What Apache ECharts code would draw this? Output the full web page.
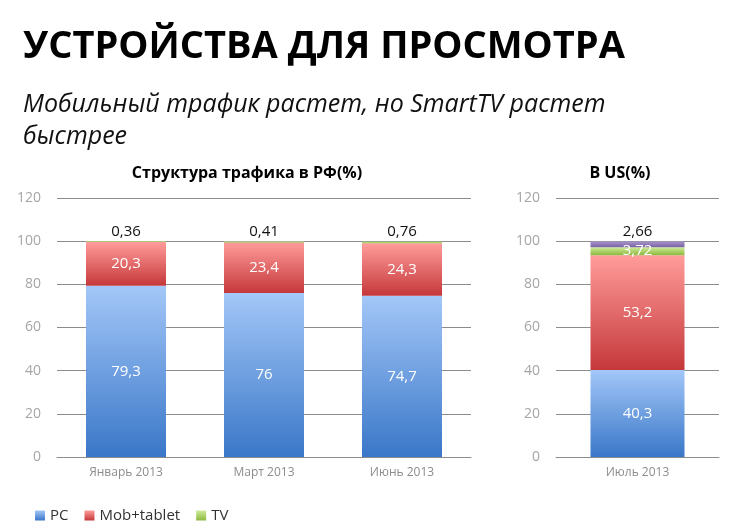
<!DOCTYPE html>
<html>
<head>
<meta charset="utf-8">
<script src="https://cdn.jsdelivr.net/npm/echarts@6/dist/echarts.min.js"></script>
<style>
html, body { margin: 0; padding: 0; background: #fff; }
#main { width: 730px; height: 531px; }
</style>
</head>
<body>
<div id="main"></div>
<script>
// данные
var categoriesRu = ['Январь 2013', 'Март 2013', 'Июнь 2013'];
var pcRu = [79.3, 76, 74.7];
var mobRu = [20.3, 23.4, 24.3];
var tvRu = [0.36, 0.41, 0.76];

var categoriesUs = ['Июль 2013'];
var pcUs = [40.3];
var mobUs = [53.2];
var tvUs = [3.72];
var otherUs = [2.66];

function grad (top, bottom) {
    return new echarts.graphic.LinearGradient(0, 0, 0, 1, [
        {offset: 0, color: top},
        {offset: 1, color: bottom}
    ]);
}
var pcColor = grad('#a3c7f8', '#3a77c8');
var mobColor = grad('#ff9c9a', '#c5383a');
var tvColor = grad('#d0ec9a', '#8cb83e');
var otherColor = grad('#a896cc', '#7a62a6');

function comma (p) {
    return String(p.value).replace('.', ',');
}

var fontF = '"Open Sans", "Noto Sans", sans-serif';

var myChart = echarts.init(document.getElementById('main'));

function yAxisOf (gi) {
    return {
        type: 'value',
        gridIndex: gi,
        min: 0,
        max: 120,
        interval: 20,
        axisLine: {show: false},
        axisTick: {show: false},
        axisLabel: {color: '#a6a6a6', fontSize: 14, fontFamily: fontF, margin: 16},
        splitLine: {lineStyle: {color: '#8c8c8c', width: 1}}
    };
}
function xAxisOf (gi, data) {
    return {
        type: 'category',
        gridIndex: gi,
        data: data,
        axisLine: {lineStyle: {color: '#8c8c8c'}},
        axisTick: {show: false},
        axisLabel: {color: '#8c8c8c', fontSize: 12, fontFamily: fontF, margin: 10}
    };
}
var inLabel = {show: true, position: 'inside', color: '#fff', fontSize: 15, fontFamily: fontF, formatter: comma};
var topLabel = {show: true, position: 'top', color: '#111', fontSize: 15, fontFamily: fontF, distance: 2, formatter: comma};

option = {
    backgroundColor: '#fff',
    title: [
        {
            text: 'УСТРОЙСТВА ДЛЯ ПРОСМОТРА',
            left: 18, top: 23,
            textStyle: {fontSize: 38, fontWeight: 'bold', color: '#000', fontFamily: fontF}
        },
        {
            text: 'Мобильный трафик растет, но SmartTV растет\nбыстрее',
            left: 18, top: 84,
            textStyle: {fontSize: 25, fontStyle: 'italic', fontWeight: 'normal', color: '#111', fontFamily: fontF, lineHeight: 32}
        },
        {
            text: 'Структура трафика в РФ(%)',
            left: 242, top: 160, textAlign: 'center',
            textStyle: {fontSize: 16, fontWeight: 'bold', color: '#000', fontFamily: fontF}
        },
        {
            text: 'В US(%)',
            left: 615, top: 160, textAlign: 'center',
            textStyle: {fontSize: 16, fontWeight: 'bold', color: '#000', fontFamily: fontF}
        }
    ],
    legend: {
        data: ['PC', 'Mob+tablet', 'TV'],
        left: 30, top: 503,
        icon: 'rect',
        itemWidth: 10, itemHeight: 10,
        itemGap: 16,
        textStyle: {fontSize: 15, color: '#333', fontFamily: fontF}
    },
    grid: [
        {left: 57, top: 198, width: 414, height: 259},
        {left: 556, top: 198, width: 163, height: 259}
    ],
    xAxis: [xAxisOf(0, categoriesRu), xAxisOf(1, categoriesUs)],
    yAxis: [yAxisOf(0), yAxisOf(1)],
    series: [
        {name: 'PC', type: 'bar', stack: 'ru', xAxisIndex: 0, yAxisIndex: 0, barWidth: 80,
            itemStyle: {color: pcColor}, label: inLabel, data: pcRu},
        {name: 'Mob+tablet', type: 'bar', stack: 'ru', xAxisIndex: 0, yAxisIndex: 0, barWidth: 80,
            itemStyle: {color: mobColor}, label: inLabel, data: mobRu},
        {name: 'TV', type: 'bar', stack: 'ru', xAxisIndex: 0, yAxisIndex: 0, barWidth: 80,
            itemStyle: {color: tvColor}, label: topLabel, data: tvRu},

        {name: 'PC', type: 'bar', stack: 'us', xAxisIndex: 1, yAxisIndex: 1, barWidth: 94,
            itemStyle: {color: pcColor}, label: inLabel, data: pcUs},
        {name: 'Mob+tablet', type: 'bar', stack: 'us', xAxisIndex: 1, yAxisIndex: 1, barWidth: 94,
            itemStyle: {color: mobColor}, label: inLabel, data: mobUs},
        {name: 'TV', type: 'bar', stack: 'us', xAxisIndex: 1, yAxisIndex: 1, barWidth: 94,
            itemStyle: {color: tvColor}, label: inLabel, data: tvUs},
        {name: 'Other', type: 'bar', stack: 'us', xAxisIndex: 1, yAxisIndex: 1, barWidth: 94,
            itemStyle: {color: otherColor}, label: topLabel, data: otherUs}
    ]
};
myChart.setOption(option);
</script>
</body>
</html>
